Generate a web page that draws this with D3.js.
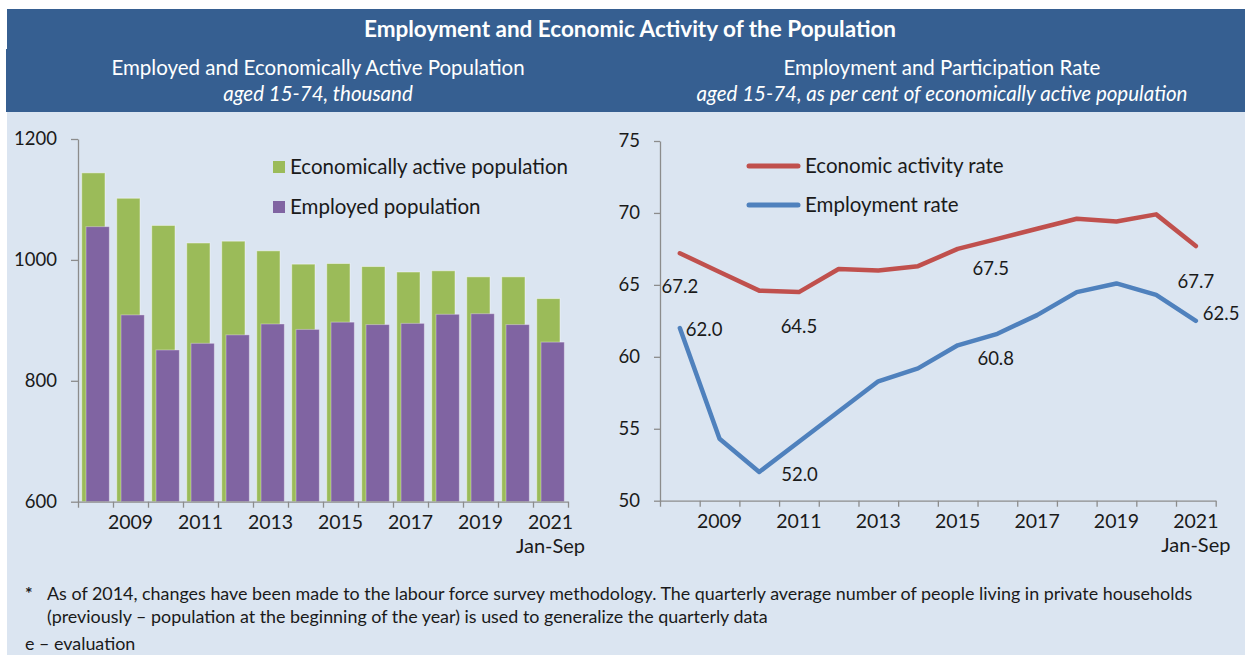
<!DOCTYPE html>
<html>
<head>
<meta charset="utf-8">
<script src="https://cdn.jsdelivr.net/npm/d3@7"></script>
<style>
  body { margin: 0; background: #ffffff; }
  svg { display: block; font-family: Lato, "Open Sans", sans-serif; }
</style>
</head>
<body>
<svg id="chart" width="1245" height="655"></svg>
<script>
// ---- data ----
const years = [2008, 2009, 2010, 2011, 2012, 2013, 2014, 2015, 2016, 2017, 2018, 2019, 2020, 2021];
const yearLabels = ["2009", "2011", "2013", "2015", "2017", "2019", "2021"];
const lastPeriodNote = "Jan-Sep";

// thousand persons, aged 15-74
const activePopulation   = [1144, 1102, 1057, 1028, 1031, 1015, 993, 994, 989, 980, 982, 972, 972, 936];
const employedPopulation = [1055, 909, 851, 862, 876, 894, 885, 897, 893, 895, 910, 911, 893, 864];
const populationTicks = [600, 800, 1000, 1200];

// per cent
const activityRate   = [67.2, 65.9, 64.6, 64.5, 66.1, 66.0, 66.3, 67.5, 68.2, 68.9, 69.6, 69.4, 69.9, 67.7];
const employmentRate = [62.0, 54.3, 52.0, 54.1, 56.2, 58.3, 59.2, 60.8, 61.6, 62.9, 64.5, 65.1, 64.3, 62.5];
const rateTicks = [50, 55, 60, 65, 70, 75];

// which points carry a value label
const labelledPoints = [
  { series: "activity",   year: 2008 },
  { series: "employment", year: 2008 },
  { series: "activity",   year: 2011 },
  { series: "employment", year: 2010 },
  { series: "activity",   year: 2015 },
  { series: "employment", year: 2015 },
  { series: "activity",   year: 2021 },
  { series: "employment", year: 2021 }
];

// ---- styles ----
const C = {
  band: "#365F91",
  body: "#DBE5F1",
  green: "#9BBB59",
  purple: "#8064A2",
  red: "#C0504D",
  blue: "#4F81BD",
  axis: "#8C8C8C",
  text: "#1a1a1a"
};

const svg = d3.select("#chart");

// background panels
svg.append("rect").attr("x", 7).attr("y", 112).attr("width", 1238).attr("height", 543).attr("fill", C.body);
svg.append("rect").attr("x", 7).attr("y", 9).attr("width", 1238).attr("height", 41).attr("fill", C.band);
svg.append("rect").attr("x", 6).attr("y", 49).attr("width", 1239).attr("height", 63).attr("fill", C.band);

svg.append("text").attr("x", 630).attr("y", 37).attr("text-anchor", "middle")
  .attr("fill", "#fff").attr("font-weight", 700).attr("font-size", 22.5)
  .text("Employment and Economic Activity of the Population");

const subtitles = [
  { x: 318, main: "Employed and Economically Active Population", sub: "aged 15-74, thousand" },
  { x: 942, main: "Employment and Participation Rate", sub: "aged 15-74, as per cent of economically active population" }
];
subtitles.forEach(s => {
  svg.append("text").attr("x", s.x).attr("y", 75).attr("text-anchor", "middle")
    .attr("fill", "#fff").attr("font-size", 20.5).text(s.main);
  svg.append("text").attr("x", s.x).attr("y", 101).attr("text-anchor", "middle")
    .attr("fill", "#fff").attr("font-size", 20.5).attr("font-style", "italic").text(s.sub);
});

// shared axis styling
function styleAxis(g) {
  g.select(".domain").attr("stroke", C.axis).attr("stroke-width", 1.3);
  g.selectAll(".tick line").attr("stroke", C.axis).attr("stroke-width", 1.3);
  g.selectAll(".tick text").attr("fill", C.text).attr("font-size", 18.5).attr("font-family", "Lato, sans-serif");
}

function categoryAxis(xBand, yPos) {
  // ticks sit on category boundaries, labels on every other category centre
  const bounds = d3.scaleLinear().domain([0, years.length]).range(xBand.range());
  const g = svg.append("g").attr("transform", `translate(0,${yPos})`)
    .call(d3.axisBottom(bounds).tickValues(d3.range(years.length + 1)).tickSize(6).tickSizeOuter(0).tickFormat(""));
  styleAxis(g);
  yearLabels.forEach(lbl => {
    const cx = xBand(+lbl) + xBand.bandwidth() / 2;
    svg.append("text").attr("x", cx).attr("y", yPos + 27).attr("text-anchor", "middle")
      .attr("fill", C.text).attr("font-size", 19.5).text(lbl);
  });
  const lastX = xBand(years[years.length - 1]) + xBand.bandwidth() / 2;
  svg.append("text").attr("x", lastX).attr("y", yPos + 51).attr("text-anchor", "middle")
    .attr("fill", C.text).attr("font-size", 20).text(lastPeriodNote);
}

// ---- left panel: bars ----
const xL = d3.scaleBand().domain(years).range([78, 568]).padding(0);
const yL = d3.scaleLinear().domain([600, 1200]).range([501.7, 139]);
const bw = xL.bandwidth();

const barW = bw * 0.666;
svg.append("g").selectAll("rect").data(years).join("rect")
  .attr("x", d => xL(d) + bw * 0.106)
  .attr("y", (d, i) => yL(activePopulation[i]))
  .attr("width", barW)
  .attr("height", (d, i) => yL(600) - yL(activePopulation[i]))
  .attr("fill", C.green).attr("stroke", "rgba(255,255,255,0.45)").attr("stroke-width", 1);

svg.append("g").selectAll("rect").data(years).join("rect")
  .attr("x", d => xL(d) + bw * 0.229)
  .attr("y", (d, i) => yL(employedPopulation[i]))
  .attr("width", barW)
  .attr("height", (d, i) => yL(600) - yL(employedPopulation[i]))
  .attr("fill", C.purple).attr("stroke", "rgba(255,255,255,0.35)").attr("stroke-width", 1);

const gyL = svg.append("g").attr("transform", "translate(78,0)")
  .call(d3.axisLeft(yL).tickValues(populationTicks).tickSize(7).tickSizeOuter(0).tickPadding(14).tickFormat(d3.format("d")));
styleAxis(gyL);
categoryAxis(xL, 501.7);

// left legend
const legL = [
  { label: "Economically active population", color: C.green, y: 167 },
  { label: "Employed population", color: C.purple, y: 207 }
];
legL.forEach(l => {
  svg.append("rect").attr("x", 273).attr("y", l.y - 6).attr("width", 12).attr("height", 12).attr("fill", l.color);
  svg.append("text").attr("x", 290).attr("y", l.y + 6.5).attr("fill", C.text).attr("font-size", 20.5).text(l.label);
});

// ---- right panel: lines ----
const xR = d3.scaleBand().domain(years).range([660, 1215.7]).padding(0);
const yR = d3.scaleLinear().domain([50, 75]).range([500.7, 141]);
const cx = d => xR(d) + xR.bandwidth() / 2;

const series = {
  activity:   { values: activityRate,   color: C.red,  label: "Economic activity rate" },
  employment: { values: employmentRate, color: C.blue, label: "Employment rate" }
};

const line = d3.line().x((d, i) => cx(years[i])).y(d => yR(d));

const gyR = svg.append("g").attr("transform", "translate(660,0)")
  .call(d3.axisLeft(yR).tickValues(rateTicks).tickSize(6).tickSizeOuter(0).tickPadding(14));
styleAxis(gyR);
categoryAxis(xR, 500.7);

Object.values(series).forEach(s => {
  svg.append("path").datum(s.values).attr("d", line)
    .attr("fill", "none").attr("stroke", s.color).attr("stroke-width", 4.5)
    .attr("stroke-linejoin", "round").attr("stroke-linecap", "round");
});

// value labels, placed beside their points
const labelOffset = {
  "activity-2008":   { dx: 0,  dy: 40,  anchor: "middle" },
  "employment-2008": { dx: 6,  dy: 8,   anchor: "start" },
  "activity-2011":   { dx: 0,  dy: 41,  anchor: "middle" },
  "employment-2010": { dx: 22, dy: 9,   anchor: "start" },
  "activity-2015":   { dx: 33, dy: 26,  anchor: "middle" },
  "employment-2015": { dx: 38, dy: 20,  anchor: "middle" },
  "activity-2021":   { dx: 0,  dy: 42,  anchor: "middle" },
  "employment-2021": { dx: 7,  dy: -1,  anchor: "start" }
};
labelledPoints.forEach(p => {
  const v = series[p.series].values[years.indexOf(p.year)];
  const o = labelOffset[`${p.series}-${p.year}`];
  svg.append("text").attr("x", cx(p.year) + o.dx).attr("y", yR(v) + o.dy)
    .attr("text-anchor", o.anchor).attr("fill", C.text).attr("font-size", 18.5)
    .text(d3.format(".1f")(v));
});

// right legend
[series.activity, series.employment].forEach((s, i) => {
  const y = 166 + i * 39;
  svg.append("line").attr("x1", 749).attr("x2", 798).attr("y1", y).attr("y2", y)
    .attr("stroke", s.color).attr("stroke-width", 5).attr("stroke-linecap", "round");
  svg.append("text").attr("x", 805).attr("y", y + 7).attr("fill", C.text).attr("font-size", 20.5).text(s.label);
});

// ---- footnotes ----
const notes = [
  { x: 25, y: 600, t: "*", w: 700 },
  { x: 47, y: 600, t: "As of 2014, changes have been made to the labour force survey methodology. The quarterly average number of people living in private households", w: 400 },
  { x: 47, y: 623, t: "(previously \u2013 population at the beginning of the year) is used to generalize the quarterly data", w: 400 },
  { x: 25, y: 650, t: "e \u2013 evaluation", w: 400 }
];
notes.forEach(n => {
  svg.append("text").attr("x", n.x).attr("y", n.y).attr("fill", C.text)
    .attr("font-size", 17.9).attr("font-weight", n.w).text(n.t);
});
</script>
</body>
</html>
